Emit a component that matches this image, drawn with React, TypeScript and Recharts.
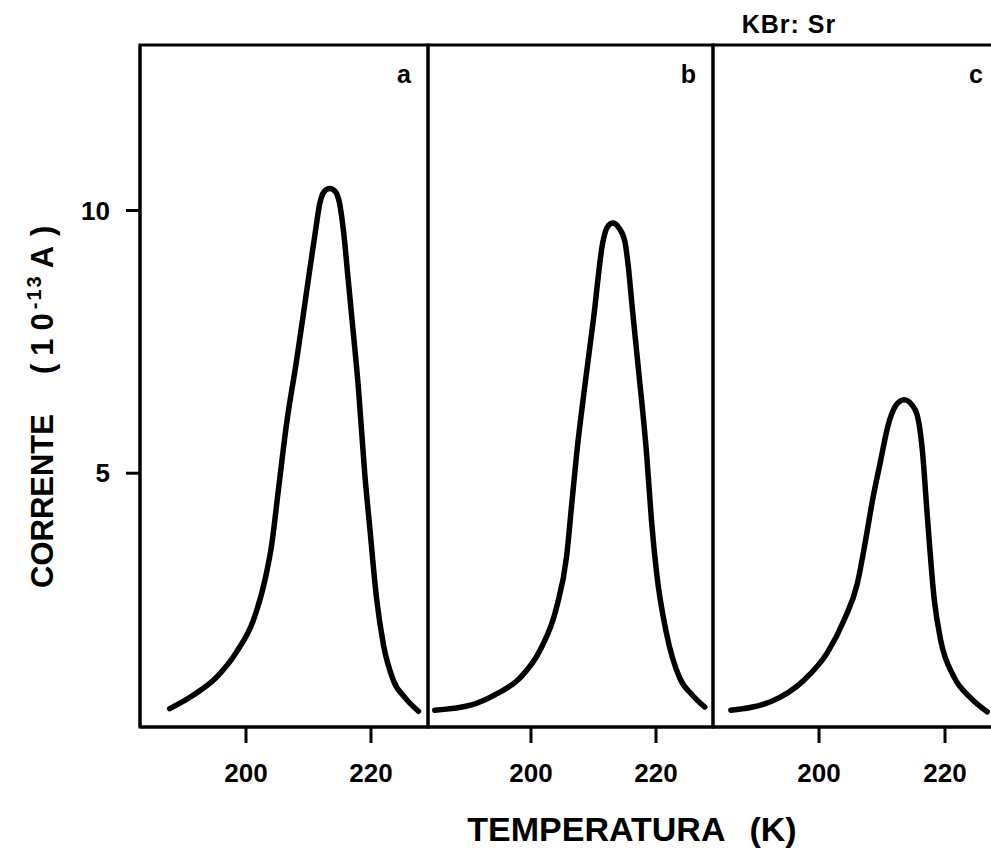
import React from "react";
import { LineChart, Line, XAxis, YAxis, ReferenceArea } from "recharts";

const W = 1000;
const H = 851;
const FONT = "'Liberation Sans', Arial, sans-serif";

// panel a
const tempA = [187.8, 191.6, 195.3, 198.5, 201.2, 203.0, 204.1, 205.2, 206.5, 208.1, 209.7, 211.1, 211.8, 212.5, 213.4, 214.3, 215.0, 215.7, 216.3, 216.9, 218.0, 219.0, 219.8, 220.9, 222.0, 223.6, 225.5, 227.6];
const currA = [0.52, 0.78, 1.12, 1.6, 2.21, 2.95, 3.63, 4.7, 5.95, 7.15, 8.46, 9.6, 10.13, 10.36, 10.42, 10.36, 10.12, 9.5, 8.75, 8.0, 6.6, 4.99, 3.97, 2.61, 1.73, 1.05, 0.72, 0.47];

// panel b
const tempB = [184.6, 190.5, 194.2, 198.2, 201.4, 204.1, 205.7, 206.5, 207.3, 208.6, 210.0, 211.5, 212.2, 213.1, 214.0, 215.0, 215.6, 216.2, 217.2, 218.5, 219.3, 220.1, 221.7, 223.8, 225.8, 227.8];
const currB = [0.49, 0.59, 0.78, 1.1, 1.62, 2.45, 3.42, 4.39, 5.36, 6.65, 7.94, 9.4, 9.68, 9.76, 9.68, 9.42, 8.9, 8.15, 6.97, 5.36, 4.07, 3.1, 1.94, 1.1, 0.78, 0.55];

// panel c
const tempC = [186.0, 192.3, 197.6, 201.3, 204.0, 206.1, 207.4, 208.5, 209.8, 210.9, 212.2, 213.5, 215.3, 216.4, 217.2, 218.3, 219.3, 221.4, 224.1, 226.7];
const currC = [0.49, 0.65, 1.06, 1.58, 2.21, 2.91, 3.73, 4.49, 5.25, 5.88, 6.29, 6.4, 6.2, 5.44, 4.17, 2.59, 1.83, 1.13, 0.72, 0.46];

const xTicks = [200, 220];
const yTicks = [5, 10];
const yDomain = [0.17, 13.15];

const rowsOf = (t: number[], c: number[]) => t.map((v, k) => ({ t: v, i: c[k] }));

const tickStyle = { fill: "#000", fontSize: 26, fontWeight: 700, fontFamily: FONT };
const axisStroke = { stroke: "#000", strokeWidth: 3 };

function PanelLetter({ text, right }: { text: string; right: number }) {
  return (
    <text x={right - 17} y={83} textAnchor="end" fill="#000" fontSize={25} fontWeight={700} fontFamily={FONT}>
      {text}
    </text>
  );
}

// rotated axis title, reading bottom to top from y=600
function YTitle() {
  const bx = 53;
  const by = 600;
  return (
    <text
      transform={`rotate(-90, ${bx}, ${by})`}
      x={bx + 12}
      y={by}
      fill="#000"
      fontSize={31}
      fontWeight={700}
      fontFamily={FONT}
    >
      <tspan x={bx + 12} y={by}>CORRENTE</tspan>
      <tspan x={bx + 226} y={by} letterSpacing={8}>(10</tspan>
      <tspan dx={-4} dy={-12} fontSize={20} letterSpacing={2}>-13</tspan>
      <tspan dx={6} dy={12} letterSpacing={10}>A)</tspan>
    </text>
  );
}

function Panel({
  rows,
  domain,
  left,
  right,
  letter,
  withY,
}: {
  rows: { t: number; i: number }[];
  domain: number[];
  left: number;
  right: number;
  letter: string;
  withY?: boolean;
}) {
  return (
    <div style={{ position: "absolute", left: 0, top: 0 }}>
      <LineChart
        width={W}
        height={H}
        data={rows}
        margin={{ top: 45, right: W - right, bottom: 0, left: withY ? 0 : left }}
      >
        <XAxis
          type="number"
          dataKey="t"
          domain={domain}
          ticks={xTicks}
          allowDataOverflow
          height={124}
          tickSize={16}
          tickMargin={21}
          tick={tickStyle}
          axisLine={axisStroke}
          tickLine={axisStroke}
        />
        <YAxis
          type="number"
          domain={yDomain}
          ticks={yTicks}
          allowDataOverflow
          hide={!withY}
          width={left}
          tickSize={14}
          tickMargin={16}
          tick={tickStyle}
          axisLine={axisStroke}
          tickLine={axisStroke}
          label={withY ? <YTitle /> : undefined}
        />
        <ReferenceArea
          x1={domain[0]}
          x2={domain[1]}
          y1={yDomain[0]}
          y2={yDomain[1]}
          fill="none"
          stroke="#000"
          strokeWidth={3}
          label={<PanelLetter text={letter} right={right} />}
        />
        <Line
          dataKey="i"
          type="monotone"
          stroke="#000"
          strokeWidth={5.5}
          strokeLinecap="round"
          dot={false}
          isAnimationActive={false}
        />
      </LineChart>
    </div>
  );
}

export default function App() {
  return (
    <div style={{ position: "absolute", left: 0, top: 0, width: 991, height: 851, overflow: "hidden", background: "#fff" }}>
      <Panel rows={rowsOf(tempA, currA)} domain={[183.04, 229.12]} left={140} right={428} letter="a" withY />
      <Panel rows={rowsOf(tempB, currB)} domain={[183.52, 229.12]} left={428} right={713} letter="b" />
      <Panel rows={rowsOf(tempC, currC)} domain={[183.17, 228.73]} left={713} right={1000} letter="c" />
      <svg width={991} height={851} style={{ position: "absolute", left: 0, top: 0, pointerEvents: "none" }}>
        <text x={789} y={33} textAnchor="middle" fill="#000" fontSize={25} fontWeight={700} fontFamily={FONT} letterSpacing={1}>
          KBr: Sr
        </text>
        <text x={632} y={841} textAnchor="middle" fill="#000" fontSize={34} fontWeight={700} fontFamily={FONT}>
          TEMPERATURA
          <tspan dx={24}>(K)</tspan>
        </text>
      </svg>
    </div>
  );
}
